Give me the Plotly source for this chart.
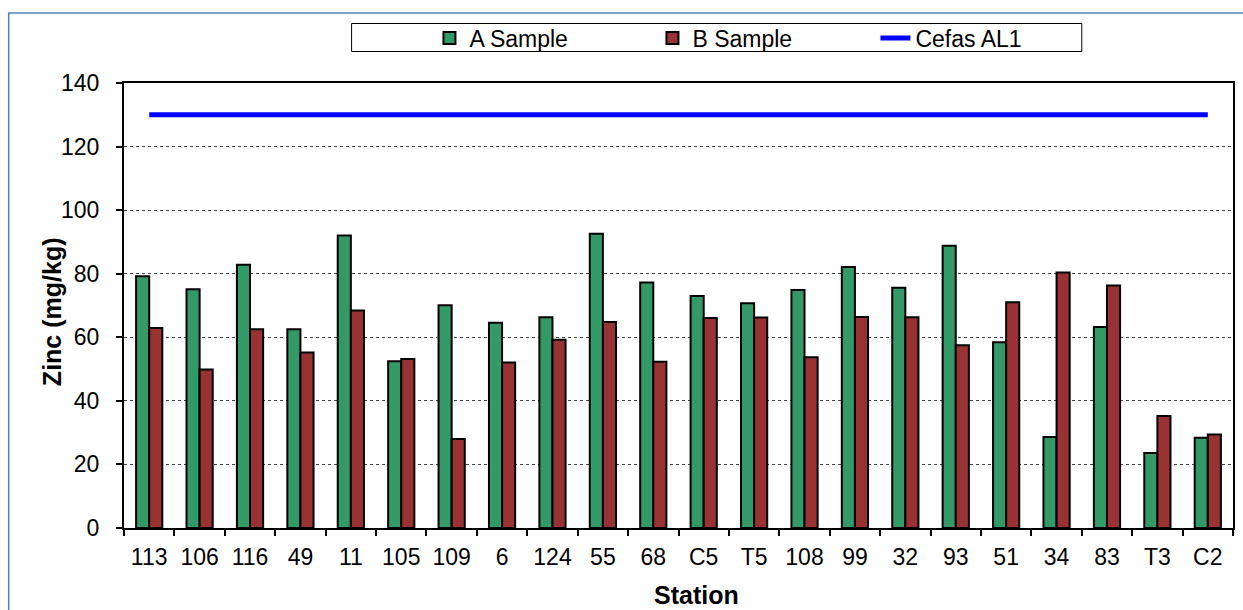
import plotly.graph_objects as go

stations = ["113", "106", "116", "49", "11", "105", "109", "6", "124", "55", "68",
            "C5", "T5", "108", "99", "32", "93", "51", "34", "83", "T3", "C2"]
a_sample = [79.2, 75.1, 82.8, 62.5, 92.0, 52.5, 70.1, 64.6, 66.3, 92.6, 77.2,
            73.0, 70.7, 74.9, 82.1, 75.6, 88.8, 58.4, 28.6, 63.2, 23.6, 28.4]
b_sample = [62.9, 49.9, 62.5, 55.2, 68.4, 53.2, 28.0, 52.1, 59.2, 64.8, 52.3,
            66.1, 66.2, 53.7, 66.4, 66.3, 57.5, 71.0, 80.4, 76.3, 35.2, 29.4]
cefas_al1 = [130] * len(stations)

y_ticks = [0, 20, 40, 60, 80, 100, 120, 140]

FONT = "Liberation Sans, Arial, sans-serif"

fig = go.Figure()
fig.add_trace(go.Bar(
    x=stations, y=a_sample, name="A Sample",
    marker=dict(color="#339966", line=dict(color="#000000", width=2)),
))
fig.add_trace(go.Bar(
    x=stations, y=b_sample, name="B Sample",
    marker=dict(color="#993333", line=dict(color="#000000", width=2)),
))
fig.add_trace(go.Scatter(
    x=stations, y=cefas_al1, name="Cefas AL1", mode="lines",
    line=dict(color="#0000FF", width=5),
))

W, H = 1243, 610
L, R, T, B = 124, 8, 83, 82
pw = W - L - R
ph = H - T - B

def px_x(x):
    return (x - L) / pw

def px_y(y):
    return (H - B - y) / ph

fig.update_layout(
    width=W, height=H,
    margin=dict(l=L, r=R, t=T, b=B),
    paper_bgcolor="white", plot_bgcolor="white",
    font=dict(family=FONT, size=23, color="#000000"),
    barmode="group", bargap=0.48, bargroupgap=0,
    showlegend=True,
    legend=dict(
        orientation="h", x=px_x(430), xanchor="left",
        y=px_y(38), yanchor="middle",
        bgcolor="rgba(0,0,0,0)", borderwidth=0,
        font=dict(family=FONT, size=23, color="#000000"),
        entrywidth=178, entrywidthmode="pixels",
        traceorder="normal",
    ),
    xaxis=dict(
        type="category", categoryorder="array", categoryarray=stations,
        tickson="boundaries", ticks="outside", ticklen=6, tickwidth=1.5,
        tickcolor="#000000", showgrid=False, zeroline=False,
        showline=True, linecolor="#000000", linewidth=2, mirror=True,
        ticklabelstandoff=7,
        tickfont=dict(family=FONT, size=23, color="#000000"),
    ),
    yaxis=dict(
        range=[0, 140], tickvals=y_ticks, ticks="outside", ticklen=6,
        tickwidth=1.5, tickcolor="#000000",
        showgrid=True, gridcolor="#444444", griddash="dot", gridwidth=1,
        zeroline=False, showline=True, linecolor="#000000", linewidth=2,
        mirror=True, ticklabelstandoff=12,
        tickfont=dict(family=FONT, size=23, color="#000000"),
    ),
    shapes=[
        # outer chart-area border
        dict(type="rect", xref="paper", yref="paper",
             x0=px_x(8.5), x1=px_x(1260), y0=px_y(640), y1=px_y(13),
             line=dict(color="#4F81BD", width=1.5), fillcolor="rgba(0,0,0,0)",
             layer="below"),
        # legend box
        dict(type="rect", xref="paper", yref="paper",
             x0=px_x(352), x1=px_x(1083.5), y0=px_y(51.5), y1=px_y(23.5),
             line=dict(color="#000000", width=1), fillcolor="rgba(0,0,0,0)"),
    ],
    annotations=[
        dict(text="<b>Station</b>", xref="paper", yref="paper",
             x=px_x(698), y=px_y(595), xanchor="center", yanchor="middle",
             showarrow=False, font=dict(family=FONT, size=25, color="#000000")),
        dict(text="<b>Zinc (mg/kg)</b>", xref="paper", yref="paper",
             x=px_x(52), y=px_y(312), xanchor="center", yanchor="middle",
             textangle=-90, showarrow=False,
             font=dict(family=FONT, size=25, color="#000000")),
    ],
)

fig.write_html("out.html")
